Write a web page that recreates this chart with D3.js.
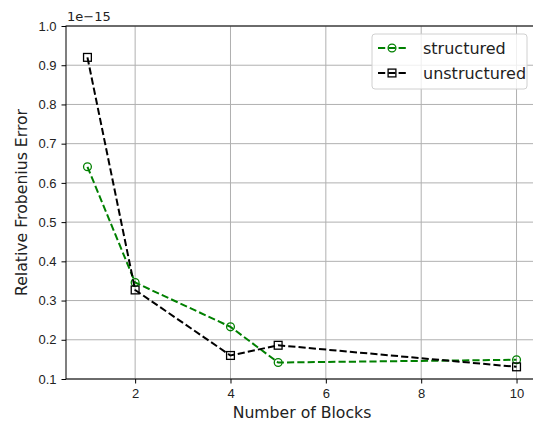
<!DOCTYPE html>
<html lang="en">
<head>
  <meta charset="UTF-8">
  <title>Relative Frobenius Error</title>
  <style>
    body { margin: 0; background: #fff; }
    svg { font-family: "DejaVu Sans", sans-serif; }
    .tick text { font-size: 13px; fill: #222; }
    .grid line { stroke: #b0b0b0; stroke-width: 1; }
  </style>
</head>
<body>
  <div id="chart"></div>
  <script src="https://d3js.org/d3.v7.min.js"></script>
  <script>
    // data (values in units of 1e-15)
    const blocks = [1, 2, 4, 5, 10];
    const structured = [0.641, 0.346, 0.233, 0.142, 0.149];
    const unstructured = [0.920, 0.327, 0.160, 0.186, 0.131];
    const xTicks = [2, 4, 6, 8, 10];
    const yTicks = [0.1, 0.2, 0.3, 0.4, 0.5, 0.6, 0.7, 0.8, 0.9, 1.0];

    const W = 533, H = 425;
    const plot = { left: 66, top: 26, right: 538, bottom: 379 };
    const dash = '7.2,3.1';

    const svg = d3.select('#chart').append('svg')
      .attr('width', W)
      .attr('height', H);

    const x = d3.scaleLinear().domain([0.55, 10.45]).range([plot.left, plot.right]);
    const y = d3.scaleLinear().domain([0.1, 1.0]).range([plot.bottom, plot.top]);

    // grid
    const grid = svg.append('g').attr('class', 'grid');
    grid.selectAll('.gx').data(xTicks).enter().append('line')
      .attr('x1', d => x(d)).attr('x2', d => x(d))
      .attr('y1', plot.top).attr('y2', plot.bottom);
    grid.selectAll('.gy').data(yTicks).enter().append('line')
      .attr('x1', plot.left).attr('x2', plot.right)
      .attr('y1', d => y(d)).attr('y2', d => y(d));

    // axes
    const xAxis = svg.append('g')
      .attr('transform', `translate(0,${plot.bottom})`)
      .call(d3.axisBottom(x).tickValues(xTicks).tickSize(4.5).tickPadding(5).tickFormat(d3.format('d')));
    const yAxis = svg.append('g')
      .attr('transform', `translate(${plot.left},0)`)
      .call(d3.axisLeft(y).tickValues(yTicks).tickSize(4.5).tickPadding(5).tickFormat(d3.format('.1f')));
    [xAxis, yAxis].forEach(a => {
      a.select('.domain').remove();
      a.selectAll('.tick line').attr('stroke', '#000').attr('stroke-width', 1);
    });

    // spines
    svg.append('rect')
      .attr('x', plot.left).attr('y', plot.top)
      .attr('width', plot.right - plot.left).attr('height', plot.bottom - plot.top)
      .attr('fill', 'none').attr('stroke', '#000').attr('stroke-width', 1);

    // series
    const series = [
      { name: 'structured', values: structured, color: 'green', marker: 'circle' },
      { name: 'unstructured', values: unstructured, color: 'black', marker: 'square' }
    ];

    const line = d3.line().x(d => x(d[0])).y(d => y(d[1]));

    function drawMarker(g, type, cx, cy, color) {
      if (type === 'circle') {
        g.append('circle').attr('cx', cx).attr('cy', cy).attr('r', 3.9)
          .attr('fill', 'none').attr('stroke', color).attr('stroke-width', 1.3);
      } else {
        g.append('rect').attr('x', cx - 3.9).attr('y', cy - 3.9)
          .attr('width', 7.8).attr('height', 7.8)
          .attr('fill', 'none').attr('stroke', color).attr('stroke-width', 1.3);
      }
    }

    series.forEach(s => {
      const pts = blocks.map((b, i) => [b, s.values[i]]);
      svg.append('path')
        .attr('d', line(pts))
        .attr('fill', 'none')
        .attr('stroke', s.color)
        .attr('stroke-width', 2)
        .attr('stroke-dasharray', dash);
      const mg = svg.append('g');
      pts.forEach(p => drawMarker(mg, s.marker, x(p[0]), y(p[1]), s.color));
    });

    // offset text
    svg.append('text')
      .attr('x', plot.left + 1).attr('y', 21)
      .attr('font-size', 13).attr('fill', '#222')
      .text('1e\u221215');

    // axis labels
    svg.append('text')
      .attr('x', 302).attr('y', 418)
      .attr('text-anchor', 'middle')
      .attr('font-size', 15.7).attr('fill', '#222')
      .text('Number of Blocks');

    svg.append('text')
      .attr('transform', `translate(27,${(plot.top + plot.bottom) / 2}) rotate(-90)`)
      .attr('text-anchor', 'middle')
      .attr('font-size', 15.7).attr('fill', '#222')
      .text('Relative Frobenius Error');

    // legend
    const lg = svg.append('g').attr('transform', 'translate(372,34)');
    lg.append('rect')
      .attr('width', 155).attr('height', 55)
      .attr('rx', 3)
      .attr('fill', 'rgba(255,255,255,0.8)')
      .attr('stroke', '#d0d0d0').attr('stroke-width', 1);
    series.forEach((s, i) => {
      const cy = 14 + i * 25;
      lg.append('line')
        .attr('x1', 6).attr('x2', 34).attr('y1', cy).attr('y2', cy)
        .attr('stroke', s.color).attr('stroke-width', 2)
        .attr('stroke-dasharray', dash);
      drawMarker(lg, s.marker, 20, cy, s.color);
      lg.append('text')
        .attr('x', 51).attr('y', cy + 5.5)
        .attr('font-size', 16).attr('fill', '#222')
        .text(s.name);
    });
  </script>
</body>
</html>
